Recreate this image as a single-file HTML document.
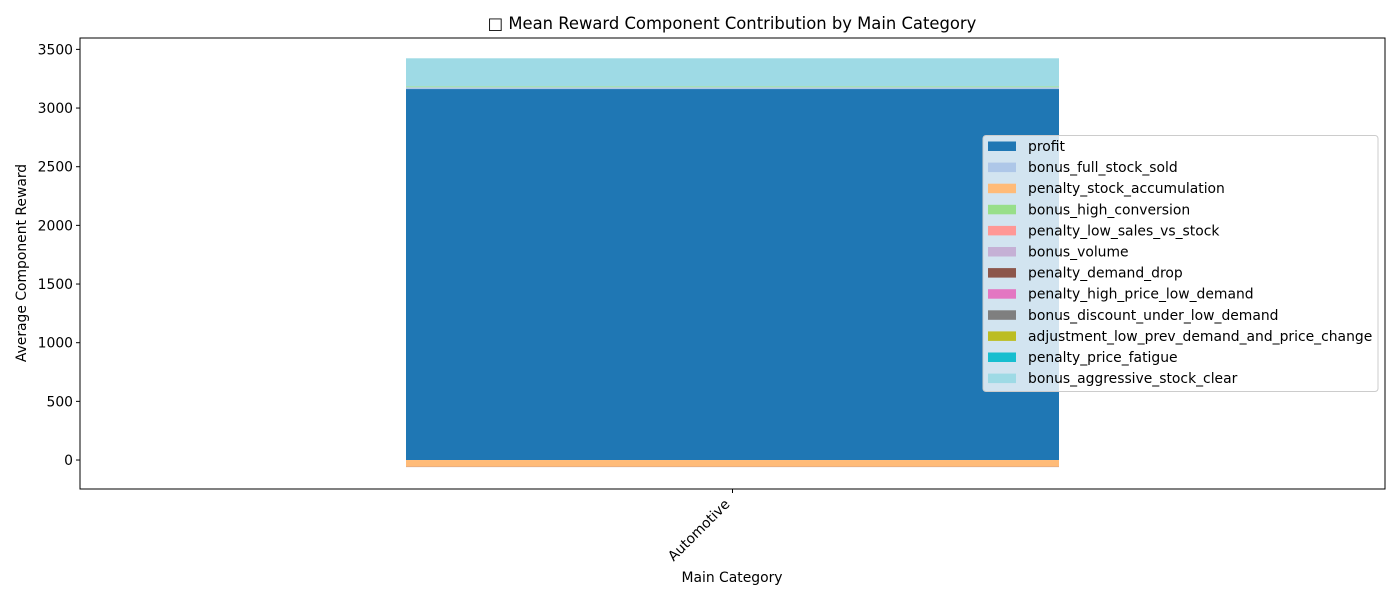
<!DOCTYPE html>
<html><head><meta charset="utf-8"><style>
body{margin:0;background:#fff;}
svg text{font-family:"DejaVu Sans","Liberation Sans",sans-serif;fill:#000;}
</style></head><body>
<svg id="chart" width="1400" height="600" xmlns="http://www.w3.org/2000/svg">
<rect width="1400" height="600" fill="#fff"/>
<text x="732" y="29" font-size="16.4" text-anchor="middle">□ Mean Reward Component Contribution by Main Category</text>
<g id="bars"></g>
<g id="yaxis"></g>
<rect x="80" y="38" width="1305" height="451" fill="none" stroke="#000" stroke-width="1"/>
<g id="xaxis"></g>
<text x="732" y="582" font-size="13.9" text-anchor="middle">Main Category</text>
<text transform="translate(26,263) rotate(-90)" font-size="13.9" text-anchor="middle">Average Component Reward</text>
<g id="legend"></g>
</svg>
<script>
const categories=["Automotive"];
const components=["profit","bonus_full_stock_sold","penalty_stock_accumulation","bonus_high_conversion","penalty_low_sales_vs_stock","bonus_volume","penalty_demand_drop","penalty_high_price_low_demand","bonus_discount_under_low_demand","adjustment_low_prev_demand_and_price_change","penalty_price_fatigue","bonus_aggressive_stock_clear"];
const values=[[3162],[15],[-58],[8],[0],[0],[-2],[0],[0],[0],[0],[239]];
const yTicks=[0,500,1000,1500,2000,2500,3000,3500];
const colors=["#1f77b4","#aec7e8","#ffbb78","#98df8a","#ff9896","#c5b0d5","#8c564b","#e377c2","#7f7f7f","#bcbd22","#17becf","#9edae5"];
(function(){
const NS="http://www.w3.org/2000/svg";
const pTop=38,pBottom=489,pLeft=80,pRight=1385;
const yMin=-247,yMax=3597;
function y(v){return pBottom-(v-yMin)/(yMax-yMin)*(pBottom-pTop);}
function xc(i){return pLeft+(i+0.5)*(pRight-pLeft)/categories.length;}
const bw=653/1305*(pRight-pLeft)/categories.length;
function mk(t,a,p){const e=document.createElementNS(NS,t);for(const k in a)e.setAttribute(k,a[k]);p.appendChild(e);return e;}
const gb=document.getElementById('bars');
categories.forEach((c,i)=>{
  let pos=0,neg=0;
  components.forEach((comp,j)=>{
    const v=values[j][i];if(!v)return;
    let a,b;
    if(v>=0){a=pos;b=pos+v;pos=b;}else{a=neg;b=neg+v;neg=b;}
    const r=mk('rect',{x:xc(i)-bw/2,y:Math.min(y(a),y(b)),width:bw,height:Math.abs(y(a)-y(b)),fill:colors[j]},gb);
    
    
  });
});
const gy=document.getElementById('yaxis');
yTicks.forEach(t=>{
  const l=mk('line',{x1:pLeft-4,x2:pLeft,y1:y(t),y2:y(t),stroke:'#000'},gy);
  
  
  const tx=mk('text',{x:pLeft-7,y:y(t)+5,'font-size':13.9,'text-anchor':'end'},gy);
  tx.textContent=t;
  
  
});
const gx=document.getElementById('xaxis');
categories.forEach((c,i)=>{
  const l=mk('line',{x1:xc(i),x2:xc(i),y1:pBottom,y2:pBottom+4,stroke:'#000'},gx);
  
  
  const tx=mk('text',{transform:`translate(${xc(i)-2},${pBottom+16}) rotate(-45)`,'font-size':13.9,'text-anchor':'end'},gx);
  tx.textContent=c;
  
  
});
const gl=document.getElementById('legend');
const lb=mk('rect',{x:983,y:135.5,width:395,height:256,rx:3,fill:'rgba(255,255,255,0.8)',stroke:'#ccc'},gl);


components.forEach((c,j)=>{
  const yy=146+j*21.1;
  const p=mk('rect',{x:988,y:yy-4.5,width:28,height:9.5,fill:colors[j]},gl);
  
  
  const t=mk('text',{x:1028,y:yy+5,'font-size':13.9},gl);
  t.textContent=c;
  
  
});
})();
</script>
</body></html>
